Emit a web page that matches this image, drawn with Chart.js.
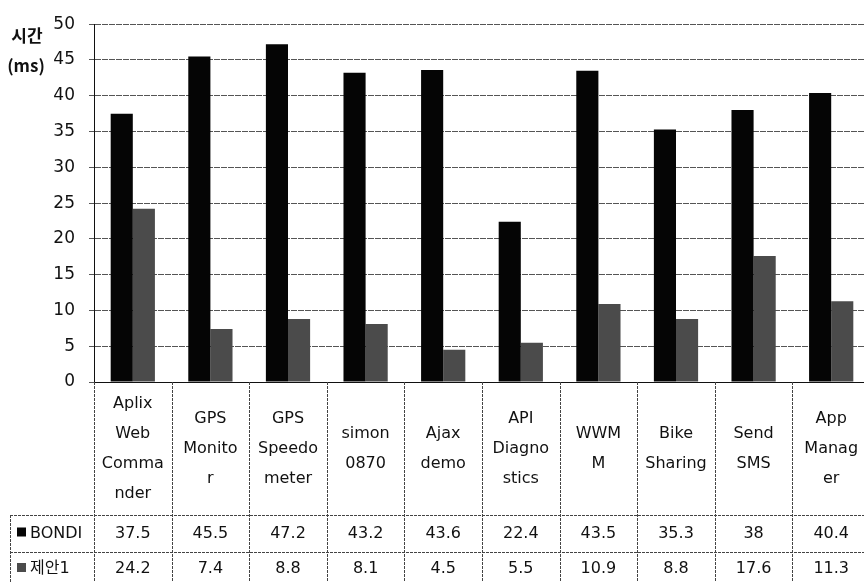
<!DOCTYPE html>
<html>
<head>
<meta charset="utf-8">
<script src="https://cdn.jsdelivr.net/npm/chart.js@4"></script>
<style>
  body { margin: 0; background: #fff; overflow: hidden; }
  #wrap { width: 872px; height: 582px; position: relative; }
</style>
</head>
<body>
<div id="wrap"><canvas id="bar-chart"></canvas></div>
<script>
// categories (as wrapped in the table cells)
var categoryLines = [
    ['Aplix', 'Web', 'Comma', 'nder'],
    ['GPS', 'Monito', 'r'],
    ['GPS', 'Speedo', 'meter'],
    ['simon', '0870'],
    ['Ajax', 'demo'],
    ['API', 'Diagno', 'stics'],
    ['WWM', 'M'],
    ['Bike', 'Sharing'],
    ['Send', 'SMS'],
    ['App', 'Manag', 'er']
];
var categories = ['Aplix Web Commander', 'GPS Monitor', 'GPS Speedometer', 'simon 0870', 'Ajax demo',
                  'API Diagnostics', 'WWMM', 'Bike Sharing', 'Send SMS', 'App Manager'];
var seriesNames = ['BONDI', '제안1'];
var bondi = [37.5, 45.5, 47.2, 43.2, 43.6, 22.4, 43.5, 35.3, 38, 40.4];
var proposal1 = [24.2, 7.4, 8.8, 8.1, 4.5, 5.5, 10.9, 8.8, 17.6, 11.3];
var yTicks = [0, 5, 10, 15, 20, 25, 30, 35, 40, 45, 50];

var BLACK = '#050505';
var GRAY = '#4b4b4b';
var FONT = '"DejaVu Sans", "Noto Sans CJK KR", sans-serif';

// draws the y title and the data table under the plot
var tablePlugin = {
    id: 'dataTable',
    afterDraw: function(chart) {
        var ctx = chart.ctx;
        var area = chart.chartArea;
        var x = chart.scales.x;
        var n = categories.length;
        var colW = x.getPixelForValue(1) - x.getPixelForValue(0);
        var left = x.getPixelForValue(0) - colW / 2;
        var top = area.bottom;
        var row1 = top + 133;
        var row2 = row1 + 37;
        var bottom = chart.height;

        ctx.save();
        // y title
        ctx.fillStyle = '#111';
        ctx.font = 'bold 17px "Noto Sans CJK KR", sans-serif';
        ctx.textAlign = 'center';
        ctx.textBaseline = 'middle';
        ctx.fillText('시간', 27, 36);
        ctx.fillText('(ms)', 26, 66);

        // table lines
        ctx.strokeStyle = '#444';
        ctx.lineWidth = 1;
        ctx.setLineDash([3, 1]);
        ctx.beginPath();
        for (var i = 0; i <= n; i++) {
            var lx = Math.round(left + i * colW) + 0.5;
            ctx.moveTo(lx, top);
            ctx.lineTo(lx, bottom);
        }
        ctx.moveTo(10.5, row1);
        ctx.lineTo(10.5, bottom);
        ctx.moveTo(10, row1 + 0.5);
        ctx.lineTo(chart.width, row1 + 0.5);
        ctx.moveTo(10, row2 + 0.5);
        ctx.lineTo(chart.width, row2 + 0.5);
        ctx.stroke();
        ctx.setLineDash([]);

        // category labels
        ctx.fillStyle = '#111';
        ctx.font = '16px ' + FONT;
        var mid = (top + row1) / 2;
        var lh = 30;
        categoryLines.forEach(function(lines, i) {
            var cx = x.getPixelForValue(i);
            var y0 = mid - (lines.length - 1) * lh / 2;
            lines.forEach(function(t, k) {
                ctx.fillText(t, cx, y0 + k * lh);
            });
        });

        // value rows
        var rows = [bondi, proposal1];
        var rowMid = [(row1 + row2) / 2, row2 + 17];
        var colors = [BLACK, GRAY];
        rows.forEach(function(vals, r) {
            ctx.textAlign = 'center';
            vals.forEach(function(v, i) {
                ctx.fillText(String(v), x.getPixelForValue(i), rowMid[r]);
            });
            ctx.fillStyle = colors[r];
            ctx.fillRect(17, rowMid[r] - 6, 9, 9);
            ctx.fillStyle = '#111';
            ctx.textAlign = 'left';
            ctx.fillText(seriesNames[r], 30, rowMid[r]);
        });
        ctx.restore();
    }
};

var ctx = document.getElementById('bar-chart');
var myChart = new Chart(ctx, {
    type: 'bar',
    data: {
        labels: categories,
        datasets: [
            {
                label: seriesNames[0],
                data: bondi,
                backgroundColor: BLACK,
                borderWidth: 0
            },
            {
                label: seriesNames[1],
                data: proposal1,
                backgroundColor: GRAY,
                borderWidth: 0
            }
        ]//datasets
    },//data
    options: {
        maintainAspectRatio: false,
        animation: false,
        datasets: {
            bar: { categoryPercentage: 0.57, barPercentage: 1.0 }
        },
        layout: { padding: { top: 15, right: 2, left: 0, bottom: 0 } },
        plugins: {
            legend: { display: false },
            tooltip: { enabled: false }
        },
        scales: {
            x: {
                ticks: { display: false },
                grid: { display: false },
                border: { display: true, color: '#111', width: 1 },
                afterFit: function(scale) { scale.height = 200; }
            },
            y: {
                min: 0,
                max: 50,
                afterBuildTicks: function(scale) {
                    scale.ticks = yTicks.map(function(v) { return { value: v }; });
                },
                ticks: {
                    color: '#111',
                    padding: 14,
                    font: { family: FONT, size: 17 }
                },
                grid: { color: '#555', lineWidth: 1, tickLength: 5 },
                border: { display: true, color: '#111', width: 1, dash: [6, 1] },
                afterFit: function(scale) { scale.width = 94; }
            }
        }//options
    },
    plugins: [tablePlugin]
});//new Chart
</script>
</body>
</html>
